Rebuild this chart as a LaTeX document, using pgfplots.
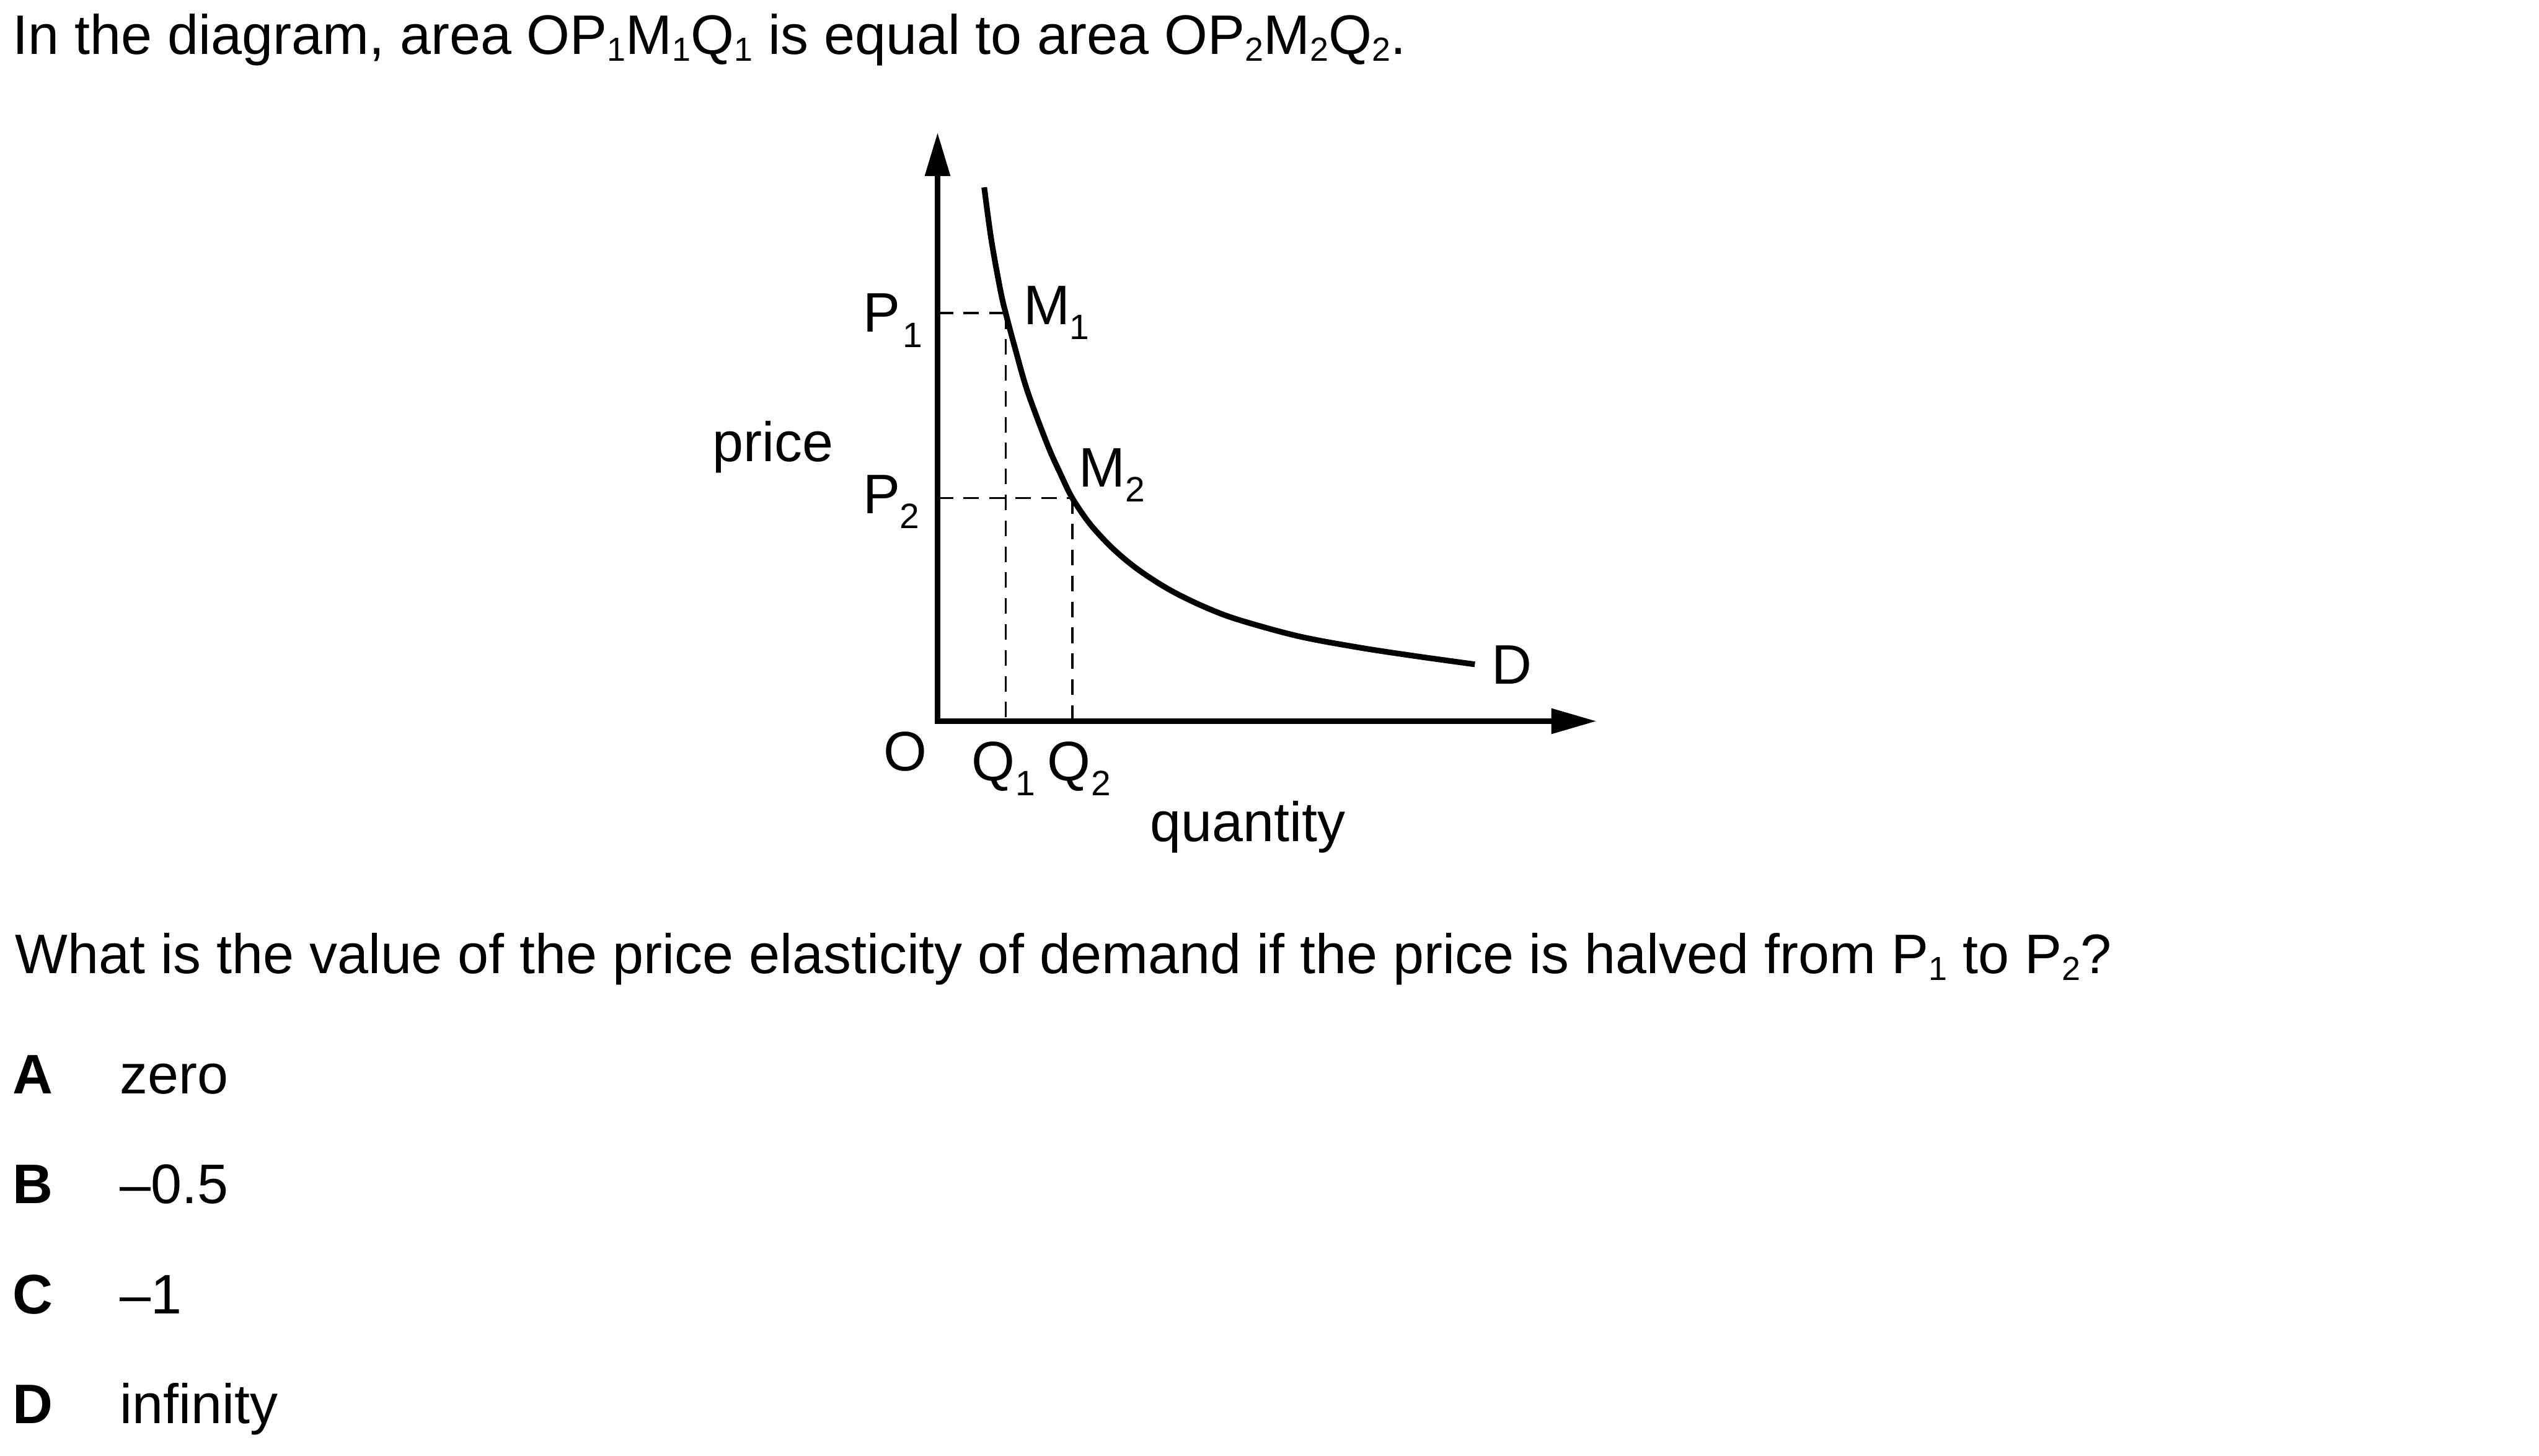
\documentclass[border=0pt]{standalone}
\usepackage{fontspec}
\setmainfont{Liberation Sans}
\usepackage{pgfplots}
\pgfplotsset{compat=1.18}
\usetikzlibrary{arrows.meta}
% text subscript used in running text
\newcommand{\tsub}[1]{\raisebox{-2.15pt}{\fontsize{10.3pt}{10.3pt}\selectfont #1}}
% label placed at reference pixel position (x, y) measured from the picture's top-left
\newcommand{\T}[3]{\node[anchor=base west,inner sep=0pt,outer sep=0pt] at (axis cs:{#1-579},{445.4-#2}) {#3};}
\begin{document}
\fontsize{17.2pt}{20pt}\selectfont
\begin{tikzpicture}
\begin{axis}[
  scale only axis, width=784pt, height=449.5pt,
  xmin=-579, xmax=989, ymin=-453.6, ymax=445.4,
  axis lines=none, ticks=none, clip=false,
]
\path[draw=none] (rel axis cs:0,0) rectangle (rel axis cs:1,1);
% dashed guides
\addplot[line width=0.75pt, dash pattern=on 4.8pt off 3.2pt] coordinates {(0,251.9) (42.1,251.9)};
\addplot[line width=0.75pt, dash pattern=on 4.8pt off 3.2pt] coordinates {(42.1,251.9) (42.1,0)};
\addplot[line width=0.75pt, dash pattern=on 4.8pt off 3.2pt] coordinates {(0,137.8) (83.2,137.8)};
\addplot[line width=0.75pt, dash pattern=on 4.8pt off 3.2pt] coordinates {(83.2,137.8) (83.2,0)};
% axes
\addplot[line width=1.75pt, line join=miter, {Triangle[length=13.5pt,width=7.5pt]}-{Triangle[length=14pt,width=7.5pt]}] coordinates {(0,363.6) (0,0) (407,0)};
% demand curve
\addplot[line width=1.75pt, smooth, tension=0.55] coordinates {
(28.8,329.7) (33.2,297.3) (38.8,266.2) (42.1,251.9) (48.1,229.5)
(55.6,203.5) (68,170.4) (75.5,153.6) (83.2,137.8) (93.5,122.6) (104.1,110.7)
(113,102.3) (122.8,94.4) (135,86.1) (147.6,78.8) (165,70.5) (185,62.9)
(222.3,52.6) (259.6,45.6) (295,40.2) (331.8,35.1)};
% diagram labels
\T{533}{205}{P}
\T{557.5}{214.6}{\fontsize{10.9pt}{10.9pt}\selectfont 1}
\T{533}{317}{P}
\T{555.6}{326.2}{\fontsize{10.9pt}{10.9pt}\selectfont 2}
\T{632.1}{200.3}{M}
\T{660.7}{209.7}{\fontsize{10.9pt}{10.9pt}\selectfont 1}
\T{666.3}{300.9}{M}
\T{694.9}{309.8}{\fontsize{10.9pt}{10.9pt}\selectfont 2}
\T{545.8}{476}{O}
\T{600}{482}{Q}
\T{627.3}{491.5}{\fontsize{10.9pt}{10.9pt}\selectfont 1}
\T{646.6}{482}{Q}
\T{673.8}{491.5}{\fontsize{10.9pt}{10.9pt}\selectfont 2}
\T{921.1}{422.5}{D}
\T{440}{284.9}{price}
\T{710.3}{519.5}{quantity}
% question text
\T{8}{33.6}{In the diagram, area OP\tsub{1}M\tsub{1}Q\tsub{1} is equal to area OP\tsub{2}M\tsub{2}Q\tsub{2}.}
\T{9.5}{601.3}{What is the value of the price elasticity of demand if the price is halved from P\tsub{1} to P\tsub{2}?}
\T{8}{675.6}{\textbf{A}}
\T{74}{675.6}{zero}
\T{8}{743.4}{\textbf{B}}
\T{74}{743.4}{\textendash0.5}
\T{8}{811.2}{\textbf{C}}
\T{74}{811.2}{\textendash1}
\T{8}{879}{\textbf{D}}
\T{74}{879}{infinity}
\end{axis}
\end{tikzpicture}
\end{document}
